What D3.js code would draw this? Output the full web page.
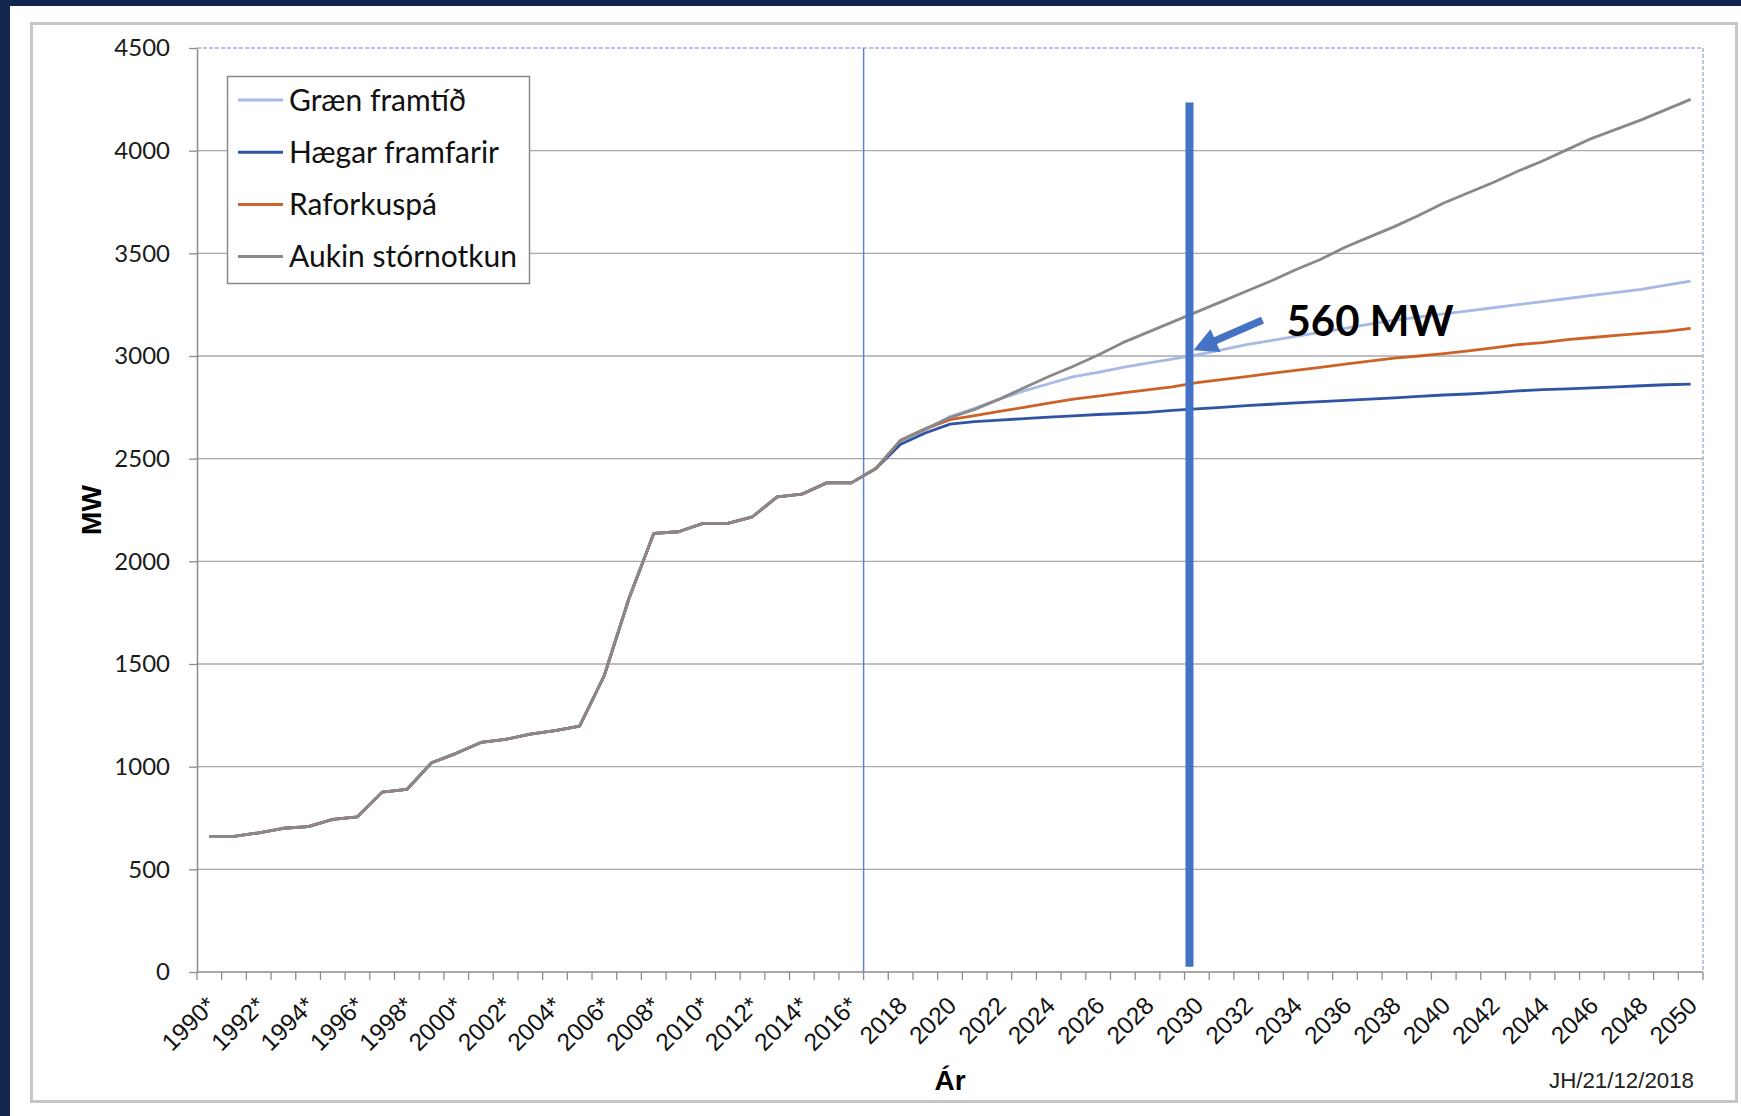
<!DOCTYPE html>
<html>
<head>
<meta charset="utf-8">
<script src="https://cdn.jsdelivr.net/npm/d3@7"></script>
<style>
html, body { margin: 0; padding: 0; background: #fff; }
svg { display: block; }
</style>
</head>
<body>
<svg id="chart" width="1741" height="1116"></svg>
<script>
// categories: one point per year
const years = d3.range(1990, 2051);
const tickLabels = ["1990*", "1992*", "1994*", "1996*", "1998*", "2000*", "2002*", "2004*",
    "2006*", "2008*", "2010*", "2012*", "2014*", "2016*", "2018", "2020", "2022", "2024",
    "2026", "2028", "2030", "2032", "2034", "2036", "2038", "2040", "2042", "2044", "2046",
    "2048", "2050"];
const yTicks = [0, 500, 1000, 1500, 2000, 2500, 3000, 3500, 4000, 4500];

// measured values 1990-2017, shared by every scenario (MW)
const history = [660, 660, 678, 700, 708, 743, 756, 876, 889, 1019, 1065, 1118, 1133, 1159,
    1175, 1198, 1445, 1820, 2136, 2144, 2185, 2185, 2217, 2314, 2327, 2382, 2382, 2452];

// scenarios 2018-2050 (MW)
const graenFramtid = [2585, 2640, 2705, 2745, 2790, 2830, 2865, 2900, 2920, 2945, 2965, 2985,
    3005, 3030, 3055, 3075, 3095, 3115, 3135, 3155, 3175, 3190, 3205, 3220, 3235, 3250, 3265,
    3280, 3295, 3310, 3325, 3345, 3365];
const haegarFramfarir = [2570, 2625, 2668, 2680, 2688, 2695, 2702, 2708, 2715, 2720, 2725,
    2735, 2742, 2750, 2758, 2765, 2772, 2778, 2784, 2790, 2796, 2803, 2810, 2815, 2822, 2830,
    2836, 2840, 2845, 2850, 2855, 2860, 2863];
const raforkuspa = [2590, 2645, 2690, 2710, 2730, 2750, 2770, 2790, 2805, 2820, 2835, 2850,
    2870, 2885, 2900, 2915, 2930, 2945, 2960, 2975, 2990, 3000, 3012, 3025, 3040, 3055, 3065,
    3080, 3090, 3100, 3110, 3120, 3135];
const aukinStornotkun = [2590, 2645, 2700, 2740, 2790, 2845, 2900, 2950, 3005, 3065, 3115,
    3165, 3215, 3265, 3315, 3365, 3420, 3470, 3530, 3580, 3630, 3685, 3745, 3795, 3845, 3900,
    3950, 4005, 4060, 4105, 4150, 4200, 4250];

const seriesNames = ["Græn framtíð", "Hægar framfarir", "Raforkuspá", "Aukin stórnotkun"];
const seriesColors = ["#a6bae5", "#2f54a3", "#cd6226", "#8a8888"];
const scenarios = [graenFramtid, haegarFramfarir, raforkuspa, aukinStornotkun];

// annotation: the 2030 marker and the gap it points at
const markYear = 2030;
const markRange = [25, 4235];
const arrowTip = 3028, arrowTail = 3175;
const gapLabel = "560 MW";

const calibri = "Lato, Carlito, 'Noto Sans', sans-serif";
const arial = "'Liberation Sans', Arial, sans-serif";
const navy = "#13264d";

const svg = d3.select('#chart');
const plot = {left: 197, right: 1703, top: 48, bottom: 972};

// page background and chart border
svg.append('rect').attr('width', 1741).attr('height', 1116).attr('fill', '#fff');
svg.append('rect').attr('width', 10).attr('height', 1116).attr('fill', navy);
svg.append('rect').attr('width', 1741).attr('height', 6).attr('fill', navy);
svg.append('rect')
    .attr('x', 31.5).attr('y', 23.5)
    .attr('width', 1705).attr('height', 1078)
    .attr('fill', 'none')
    .attr('stroke', '#c6c6c6')
    .attr('stroke-width', 3);

const x = d3.scalePoint()
    .domain(years)
    .range([plot.left, plot.right])
    .padding(0.5);
const y = d3.scaleLinear()
    .domain([0, 4500])
    .range([plot.bottom, plot.top]);
const step = x.step();

// horizontal gridlines
svg.append('g')
    .selectAll('line')
    .data(yTicks.filter(function(v){ return v > 0 && v < 4500; }))
    .join('line')
    .attr('x1', plot.left).attr('x2', plot.right)
    .attr('y1', function(d){ return y(d); })
    .attr('y2', function(d){ return y(d); })
    .attr('stroke', '#a9a9a9')
    .attr('stroke-width', 1.3);

// dashed plot-area outline (top and right)
svg.append('path')
    .attr('d', 'M' + plot.left + ',' + plot.top + 'H' + plot.right + 'V' + plot.bottom)
    .attr('fill', 'none')
    .attr('stroke', '#a3b3da')
    .attr('stroke-width', 1.5)
    .attr('stroke-dasharray', '4,2');

// y axis
const yAxis = svg.append('g')
    .attr('transform', 'translate(' + plot.left + ',0)')
    .call(d3.axisLeft(y)
        .tickValues(yTicks)
        .tickFormat(d3.format('d'))
        .tickSize(8)
        .tickSizeOuter(0)
        .tickPadding(19));
yAxis.select('.domain').attr('stroke', '#8c8c8c').attr('stroke-width', 1.5);
yAxis.selectAll('.tick line').attr('stroke', '#8c8c8c').attr('stroke-width', 1.3);
yAxis.selectAll('.tick text')
    .attr('font-family', calibri)
    .attr('font-size', 24)
    .attr('fill', '#1a1a1a');

// x axis: line, ticks between categories, rotated labels every second year
svg.append('line')
    .attr('x1', plot.left).attr('x2', plot.right)
    .attr('y1', plot.bottom).attr('y2', plot.bottom)
    .attr('stroke', '#8c8c8c')
    .attr('stroke-width', 1.5);
const bounds = years.map(function(d){ return x(d) - step / 2; })
    .concat([x(years[years.length - 1]) + step / 2]);
svg.append('g')
    .selectAll('line')
    .data(bounds)
    .join('line')
    .attr('x1', function(d){ return d; })
    .attr('x2', function(d){ return d; })
    .attr('y1', plot.bottom).attr('y2', plot.bottom + 8)
    .attr('stroke', '#8c8c8c')
    .attr('stroke-width', 1.3);
svg.append('g')
    .selectAll('text')
    .data(tickLabels)
    .join('text')
    .attr('transform', function(d){
        return 'translate(' + (x(parseInt(d)) + 2) + ',' + (plot.bottom + 29) + ') rotate(-45)';
    })
    .attr('text-anchor', 'end')
    .attr('dominant-baseline', 'central')
    .attr('font-family', arial)
    .attr('font-size', 24.5)
    .attr('fill', '#111')
    .text(function(d){ return d; });

// divider between measured and forecast years
const splitX = x(2017) - step / 2;
svg.append('line')
    .attr('x1', splitX).attr('x2', splitX)
    .attr('y1', plot.top).attr('y2', plot.bottom)
    .attr('stroke', '#5f82cf')
    .attr('stroke-width', 1.5);

// series lines, grey drawn last so it covers the shared history
const line = d3.line()
    .x(function(d, i){ return x(years[i]); })
    .y(function(d){ return y(d); });
scenarios.forEach(function(values, k){
    svg.append('path')
        .datum(history.concat(values))
        .attr('d', line)
        .attr('fill', 'none')
        .attr('stroke', seriesColors[k])
        .attr('stroke-width', 2.8)
        .attr('stroke-linejoin', 'round');
});

// 2030 marker bar
const markX = x(markYear) - step * 0.3;
svg.append('line')
    .attr('x1', markX).attr('x2', markX)
    .attr('y1', y(markRange[1])).attr('y2', y(markRange[0]))
    .attr('stroke', '#4472c4')
    .attr('stroke-width', 8);

// arrow pointing at the bar
const tip = [markX + 4, y(arrowTip)];
const tail = [markX + 73, y(arrowTail)];
const dx = tip[0] - tail[0], dy = tip[1] - tail[1];
const len = Math.hypot(dx, dy);
const ux = dx / len, uy = dy / len;
const headLen = 24, headHalf = 12.5;
const base = [tip[0] - ux * headLen, tip[1] - uy * headLen];
svg.append('line')
    .attr('x1', tail[0]).attr('y1', tail[1])
    .attr('x2', base[0] + ux * 2).attr('y2', base[1] + uy * 2)
    .attr('stroke', '#4472c4')
    .attr('stroke-width', 7.5);
svg.append('path')
    .attr('d', 'M' + tip[0] + ',' + tip[1] +
        'L' + (base[0] - uy * headHalf) + ',' + (base[1] + ux * headHalf) +
        'L' + (base[0] + uy * headHalf) + ',' + (base[1] - ux * headHalf) + 'Z')
    .attr('fill', '#4472c4');
svg.append('text')
    .attr('x', markX + 97)
    .attr('y', y(3097))
    .attr('font-family', calibri)
    .attr('font-weight', 'bold')
    .attr('font-size', 42)
    .attr('fill', '#000')
    .text(gapLabel);

// legend
const legend = svg.append('g').attr('transform', 'translate(227,76)');
legend.append('rect')
    .attr('x', 0.5).attr('y', 0.5)
    .attr('width', 302).attr('height', 207)
    .attr('fill', '#fff')
    .attr('stroke', '#8a8a8a')
    .attr('stroke-width', 1.5);
const rows = legend.selectAll('g.row')
    .data(seriesNames)
    .join('g')
    .attr('class', 'row')
    .attr('transform', function(d, i){ return 'translate(0,' + (24 + i * 52.2) + ')'; });
rows.append('line')
    .attr('x1', 11).attr('x2', 56)
    .attr('stroke', function(d, i){ return seriesColors[i]; })
    .attr('stroke-width', 3);
rows.append('text')
    .attr('x', 62)
    .attr('y', 10.5)
    .attr('font-family', calibri)
    .attr('font-size', 30)
    .attr('fill', '#111')
    .text(function(d){ return d; });

// axis titles and date stamp
svg.append('text')
    .attr('transform', 'translate(101,' + ((plot.top + plot.bottom) / 2) + ') rotate(-90)')
    .attr('text-anchor', 'middle')
    .attr('font-family', arial)
    .attr('font-weight', 'bold')
    .attr('font-size', 28)
    .attr('fill', '#000')
    .text('MW');
svg.append('text')
    .attr('x', (plot.left + plot.right) / 2)
    .attr('y', 1090)
    .attr('text-anchor', 'middle')
    .attr('font-family', arial)
    .attr('font-weight', 'bold')
    .attr('font-size', 28)
    .attr('fill', '#000')
    .text('Ár');
svg.append('text')
    .attr('x', 1549)
    .attr('y', 1088)
    .attr('font-family', arial)
    .attr('font-size', 22)
    .attr('textLength', 145)
    .attr('lengthAdjust', 'spacingAndGlyphs')
    .attr('fill', '#222')
    .text('JH/21/12/2018');
</script>
</body>
</html>
